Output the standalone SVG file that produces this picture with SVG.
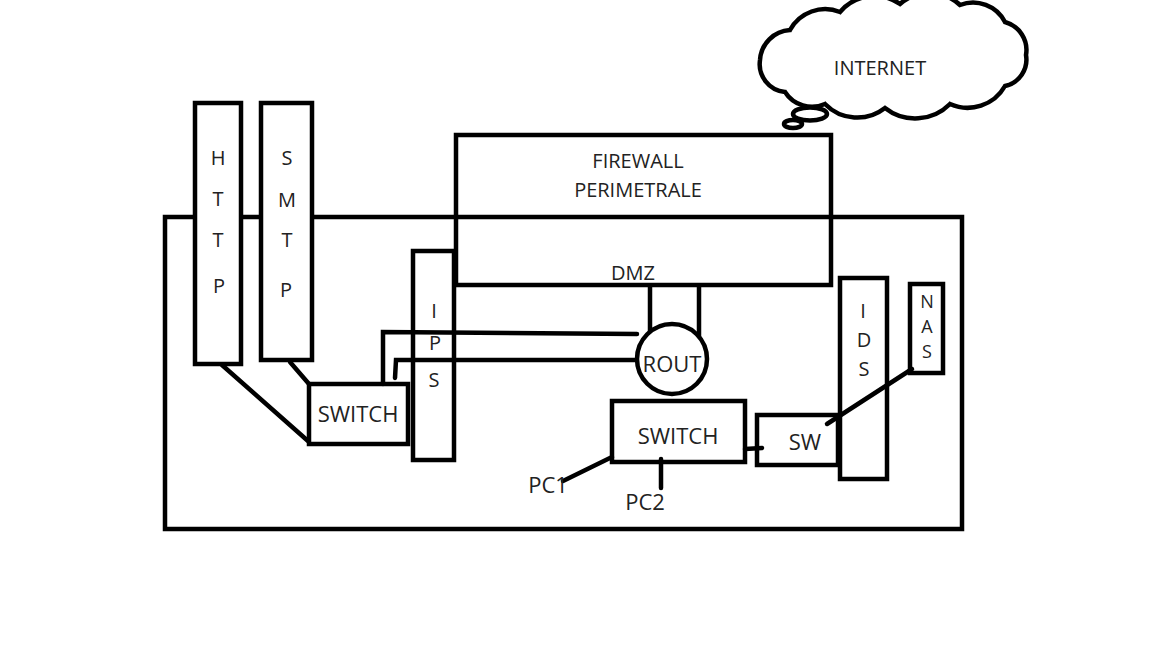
<svg xmlns="http://www.w3.org/2000/svg" width="1152" height="648" viewBox="0 0 1152 648">
<style>
.b{fill:none;stroke:#000;stroke-width:4.5}
.w{fill:#fff;stroke:#000;stroke-width:4.5}
.l{fill:none;stroke:#000;stroke-width:4.5;stroke-linecap:round}
text{font-family:"Open Sans","Noto Sans",sans-serif;fill:#222;text-anchor:middle}
.t{font-size:20px}
.n{font-size:18px}
.s{font-size:22px}
</style>
<rect width="1152" height="648" fill="#fff"/>
<g id="internet">
<path class="b" d="M785,92 A28,28 0 0 1 760,60 A32,32 0 0 1 790,30 A40,40 0 0 1 840,12 A45,45 0 0 1 900,4 A45,45 0 0 1 960,5 A36,36 0 0 1 1005,22 A29,29 0 0 1 1026,55 A27,27 0 0 1 1005,86 A43,43 0 0 1 950,104 A49,49 0 0 1 885,108 A45,45 0 0 1 825,104 A32,32 0 0 1 785,92 Z"/>
<ellipse class="b" cx="810" cy="114" rx="17" ry="6.5"/>
<ellipse class="b" cx="793" cy="124" rx="9" ry="4"/>
<text class="t" x="880" y="75">INTERNET</text>
</g>
<g id="perimeter"><rect class="b" x="165" y="217" width="797" height="312"/></g>
<g id="http"><rect class="w" x="195" y="103" width="46" height="261"/>
<text class="t" x="218" y="165">H</text><text class="t" x="218" y="206">T</text><text class="t" x="218" y="247">T</text><text class="t" x="219" y="293">P</text></g>
<g id="smtp"><rect class="w" x="261" y="103" width="51" height="257"/>
<text class="t" x="287" y="165">S</text><text class="t" x="287" y="207">M</text><text class="t" x="287" y="247">T</text><text class="t" x="286" y="297">P</text></g>
<g id="connectors">
<line class="l" x1="222" y1="365" x2="308" y2="441"/>
<line class="l" x1="290" y1="362" x2="309" y2="384"/>
<polyline class="l" points="383,384 383,332 637,334"/>
<polyline class="l" points="395,378 396,360 637,360"/>
<line class="b" x1="650" y1="285" x2="650" y2="334"/>
<line class="b" x1="699" y1="285" x2="699" y2="339"/>
<line class="l" x1="612" y1="457" x2="563" y2="481"/>
<line class="l" x1="661" y1="459" x2="661" y2="488"/>
<line class="l" x1="745" y1="449" x2="762" y2="448"/>
<line class="l" x1="912" y1="369" x2="827" y2="424"/>
</g>
<g id="switch1"><rect class="b" x="309" y="384" width="99" height="60"/><text class="s" x="358" y="422">SWITCH</text></g>
<g id="ips"><rect class="b" x="413" y="251" width="41" height="209"/>
<text class="t" x="434" y="318">I</text><text class="t" x="435" y="350">P</text><text class="t" x="434" y="387">S</text></g>
<g id="firewall"><rect class="b" x="456" y="135" width="375" height="150"/>
<text class="t" x="638" y="168">FIREWALL</text><text class="t" x="638" y="197">PERIMETRALE</text><text class="t" x="633" y="280">DMZ</text></g>
<g id="router"><circle class="w" cx="672" cy="359" r="35"/><text class="s" x="672" y="372">ROUT</text></g>
<g id="switch2"><rect class="b" x="612" y="401" width="133" height="61"/><text class="s" x="678" y="444">SWITCH</text></g>
<g id="sw"><rect class="b" x="757" y="415" width="81" height="50"/><text class="s" x="805" y="450">SW</text></g>
<g id="ids"><rect class="b" x="840" y="278" width="47" height="201"/>
<text class="t" x="863" y="318">I</text><text class="t" x="864" y="347">D</text><text class="t" x="864" y="376">S</text></g>
<g id="nas"><rect class="b" x="910" y="284" width="33" height="89"/>
<text class="n" x="927" y="308">N</text><text class="n" x="927" y="333">A</text><text class="n" x="927" y="358">S</text></g>
<g id="pcs"><text class="s" x="548" y="493">PC1</text><text class="s" x="645" y="510">PC2</text></g>
</svg>
